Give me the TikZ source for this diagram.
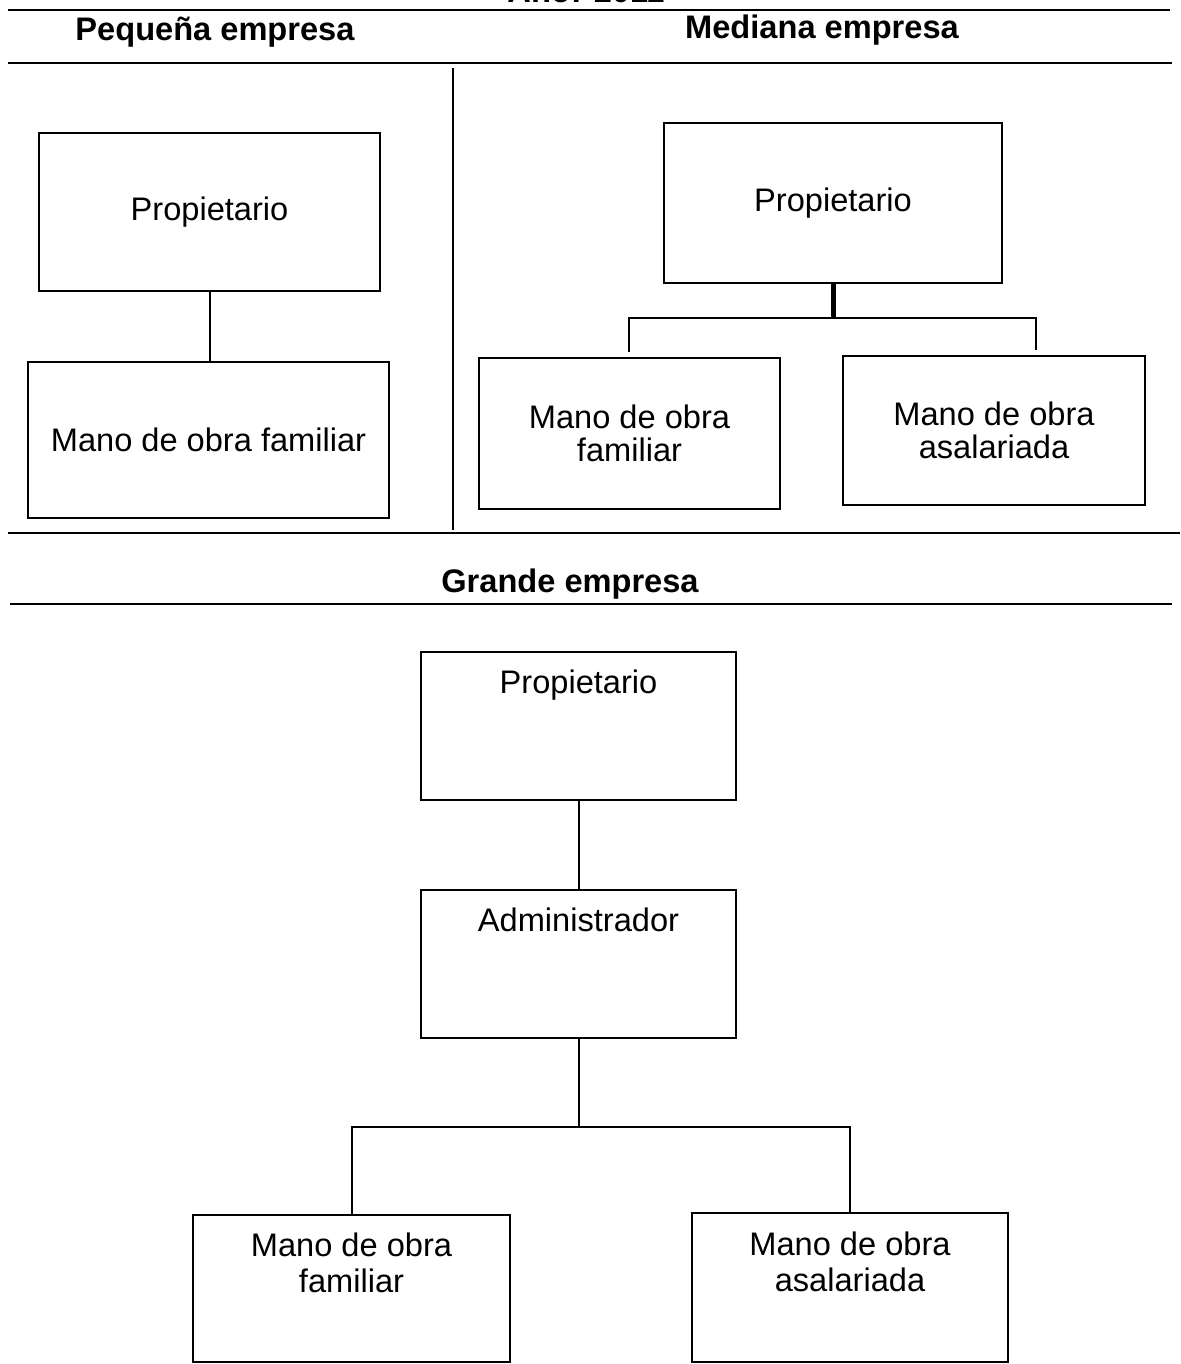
\documentclass[tikz,border=0pt]{standalone}
\usepackage{fontspec}
\setmainfont{Liberation Sans}
\usepackage{tikz}
\usetikzlibrary{positioning}
\tikzstyle{box} = [rectangle, draw=black, line width=1.1pt, inner sep=0pt, align=center, font=\fontsize{16.3}{16.5}\selectfont]
\tikzstyle{head} = [font=\bfseries\fontsize{16.3}{18}\selectfont]
\tikzstyle{rule} = [line width=1pt]
\tikzstyle{link} = [line width=1pt]
\tikzstyle{toplbl} = [anchor=center, align=center, font=\fontsize{16.3}{18}\selectfont]

\begin{document}
\begin{tikzpicture}[x=0.5pt, y=-0.5pt]
\useasboundingbox (0,0) rectangle (1180,1364);

% Headings and rules
\node[head, anchor=base] (year) at (586,3) {Año: 2011};
\draw[rule] (8,10) -- (1170,10);
\node[head] (peq) at (215,32) {Pequeña empresa};
\node[head] (med) at (822,30) {Mediana empresa};
\draw[rule] (8,63) -- (1172,63);
\draw[rule] (453,68) -- (453,530);
\draw[rule] (8,533) -- (1180,533);
\node[head] (gra) at (570,584) {Grande empresa};
\draw[rule] (10,604) -- (1172,604);

% Pequena empresa
\node[box, minimum width=170.5pt, minimum height=79pt] (pprop) at (209.5,212) {Propietario};
\node[box, minimum width=180.5pt, minimum height=78pt] (pfam) at (208.5,440) {Mano de obra familiar};
\draw[link] (pprop.south) -- (pprop.south |- pfam.north);

% Mediana empresa
\node[box, minimum width=169pt, minimum height=80pt] (mprop) at (833,203) {Propietario};
\node[box, minimum width=150.5pt, minimum height=75.5pt] (mfam) at (629.5,433.5) {Mano de obra\\familiar};
\node[box, minimum width=151pt, minimum height=74.5pt] (masal) at (994,430.5) {Mano de obra\\asalariada};
\coordinate (mjoin) at (833,318);
\coordinate (mleft) at (629,352);
\coordinate (mright) at (1036,350);
\draw[line width=2.5pt] (mprop.south) -- (mjoin);
\draw[link] (mleft) |- (mjoin) -| (mright);

% Grande empresa
\node[box, minimum width=157.5pt, minimum height=74pt,
  label={[toplbl, yshift=-17pt]north:Propietario}] (gprop) at (578.5,726) {};
\node[box, minimum width=157.5pt, minimum height=74pt,
  label={[toplbl, yshift=-15.5pt]north:Administrador}] (gadm) at (578.5,964) {};
\node[box, minimum width=158.5pt, minimum height=73.5pt,
  label={[toplbl, yshift=-24.5pt]north:Mano de obra\\familiar}] (gfam) at (351.5,1288.5) {};
\node[box, minimum width=158pt, minimum height=74.5pt,
  label={[toplbl, yshift=-25pt]north:Mano de obra\\asalariada}] (gasal) at (850,1287.5) {};
\coordinate (gjoin) at (580,1127);
\draw[link] (gprop.south) -- (gadm.north);
\draw[link] (gadm.south) -- (gadm.south |- gjoin);
\draw[link] (gfam.north) |- (gjoin) -| (gasal.north);

\end{tikzpicture}
\end{document}
